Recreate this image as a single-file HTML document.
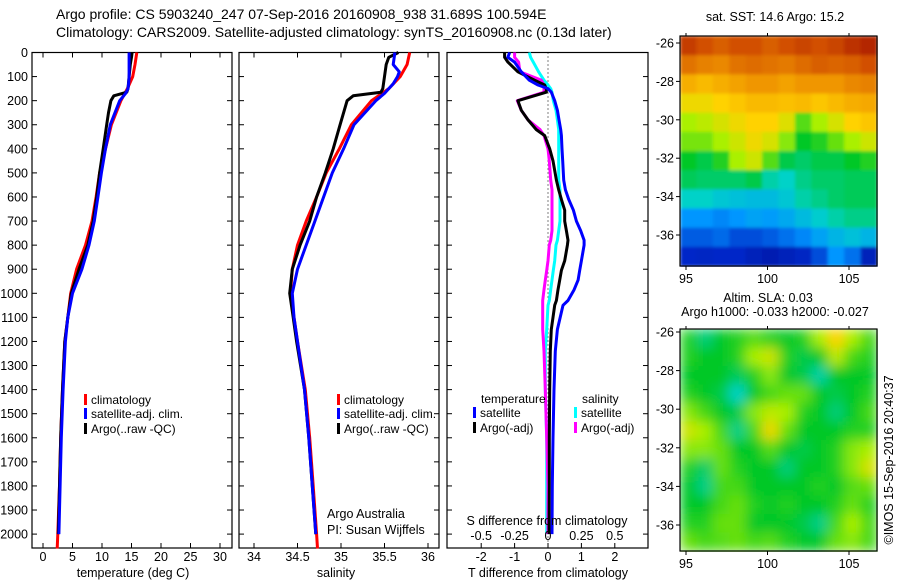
<!DOCTYPE html>
<html><head><meta charset="utf-8"><style>
html,body{margin:0;padding:0;background:#fff;}
svg{display:block;font-family:"Liberation Sans",sans-serif;}
text{fill:#000;}
</style></head><body>
<svg id="fig" width="900" height="580" viewBox="0 0 900 580" xmlns="http://www.w3.org/2000/svg">
<defs>
<filter id="blur6" x="0" y="0" width="1" height="1"><feGaussianBlur stdDeviation="6" edgeMode="duplicate"/></filter>
<filter id="blur1" x="0" y="0" width="1" height="1"><feGaussianBlur stdDeviation="1.5" edgeMode="duplicate"/></filter>
</defs>
<text x="56" y="19" font-size="14">Argo profile: CS 5903240_247 07-Sep-2016 20160908_938 31.689S 100.594E</text>
<text x="56" y="37" font-size="14">Climatology: CARS2009. Satellite-adjusted climatology: synTS_20160908.nc (0.13d later)</text>
<g id="g1"></g>
<g id="g2"></g>
<g id="g3"></g>
<g id="g4"></g>
<g id="g5"></g>
<text x="775" y="21" font-size="12.5" text-anchor="middle">sat. SST: 14.6 Argo: 15.2</text>
<text x="768" y="302" font-size="12.5" text-anchor="middle">Altim. SLA: 0.03</text>
<text x="775" y="316" font-size="12.5" text-anchor="middle">Argo h1000: -0.033 h2000: -0.027</text>
<text transform="translate(893,460) rotate(-90)" font-size="12.5" text-anchor="middle">©IMOS 15-Sep-2016 20:40:37</text>
<text x="327" y="518" font-size="12.5">Argo Australia</text>
<text x="327" y="534" font-size="12.5">PI: Susan Wijffels</text>
</svg>
<script>
// ---------- DATA ----------
const depthTicks = [0,100,200,300,400,500,600,700,800,900,1000,1100,1200,1300,1400,1500,1600,1700,1800,1900,2000];
const tempTicks = [0,5,10,15,20,25,30];
const salTicks = [34,34.5,35,35.5,36];
const salTickLabels = ["34","34.5","35","35.5","36"];
const tdiffTicks = [-2,-1,0,1,2];
const sdiffTicks = [-0.5,-0.25,0,0.25,0.5];
const latTicks = [-26,-28,-30,-32,-34,-36];
const lonTicks = [95,100,105];

const climDepth = [0,50,100,150,200,300,400,500,600,700,800,900,1000,1100,1200,1400,1600,1800,2000,2060];
const climTemp  = [15.9,15.6,15.2,14.3,13.2,11.6,10.6,9.6,9.0,8.3,7.2,5.7,4.7,4.2,3.7,3.3,3.0,2.8,2.5,2.4];
const climSal   = [35.79,35.76,35.68,35.55,35.35,35.12,34.98,34.83,34.72,34.6,34.5,34.44,34.42,34.46,34.5,34.59,34.64,34.68,34.72,34.73];
const satDepth  = [0,50,80,100,130,150,170,200,300,400,500,600,700,800,900,1000,1100,1200,1400,1600,1800,2000];
const satTemp   = [14.6,14.6,14.6,14.6,14.5,14.4,14.0,13.0,11.4,10.6,9.9,9.3,8.7,7.8,6.6,5.0,4.2,3.8,3.4,3.1,2.9,2.7];
const satSal    = [35.62,35.6,35.67,35.65,35.6,35.55,35.5,35.4,35.15,35.03,34.9,34.8,34.7,34.6,34.5,34.44,34.46,34.5,34.58,34.63,34.67,34.71];
const argoDepth = [0,20,50,100,150,165,180,200,250,300,400,500,600,700,800,900,1000,1100,1200,1400,1600,1800,2000];
const argoTemp  = [15.1,15.0,14.8,14.6,14.4,14.2,12.0,11.5,11.1,10.8,10.2,9.6,9.1,8.5,7.6,6.1,4.8,4.2,3.7,3.3,3.0,2.8,2.6];
const argoSal   = [35.66,35.55,35.52,35.5,35.48,35.46,35.14,35.07,35.03,34.99,34.91,34.82,34.72,34.64,34.53,34.44,34.41,34.45,34.49,34.58,34.63,34.67,34.71];

const dDepth = [0,20,40,80,115,135,150,165,200,240,280,320,345,400,450,530,570,610,655,700,740,780,800,865,905,945,985,1030,1050,1150,1240,1400,1600,1800,2000];
const dTsat  = [-1.15,-1.2,-1.0,-0.8,-0.56,-0.3,0.0,0.1,0.2,0.28,0.33,0.38,0.4,0.42,0.44,0.47,0.52,0.62,0.76,0.85,0.98,1.08,1.08,1.0,0.95,0.9,0.78,0.6,0.45,0.28,0.22,0.18,0.15,0.13,0.12];
const dTargo = [-1.3,-1.3,-1.2,-0.9,-0.4,-0.1,-0.05,-0.05,-0.9,-0.8,-0.6,-0.35,-0.1,0.05,0.15,0.25,0.32,0.4,0.5,0.5,0.55,0.6,0.58,0.5,0.4,0.35,0.3,0.25,0.2,0.1,0.07,0.05,0.04,0.04,0.03];
const dSsat  = [-0.14,-0.13,-0.11,-0.07,-0.03,0.0,0.02,0.03,0.04,0.06,0.07,0.08,0.08,0.08,0.08,0.08,0.09,0.09,0.09,0.09,0.08,0.07,0.06,0.05,0.04,0.03,0.02,0.01,0.0,-0.01,-0.02,-0.02,-0.01,-0.01,-0.01];
const dSargo = [-0.25,-0.25,-0.22,-0.21,-0.05,-0.03,-0.03,-0.03,-0.23,-0.2,-0.15,-0.06,-0.03,0.0,0.01,0.02,0.03,0.03,0.03,0.03,0.03,0.02,0.01,0.0,-0.01,-0.02,-0.03,-0.04,-0.04,-0.04,-0.03,-0.02,-0.01,0.0,0.0];

const sstGrid = [
 [.93,.9,.88,.9,.9,.88,.9,.92,.9,.92,.95,.97],
 [.85,.83,.82,.85,.86,.85,.84,.86,.88,.87,.88,.9],
 [.76,.74,.76,.78,.8,.8,.78,.8,.8,.8,.82,.83],
 [.68,.68,.7,.72,.74,.74,.73,.74,.72,.74,.76,.77],
 [.6,.62,.65,.68,.7,.7,.66,.55,.6,.65,.7,.72],
 [.57,.57,.6,.64,.68,.65,.58,.5,.52,.56,.6,.64],
 [.5,.48,.52,.6,.64,.55,.48,.46,.48,.48,.5,.52],
 [.47,.46,.46,.46,.48,.42,.4,.44,.46,.46,.47,.47],
 [.40,.40,.38,.37,.36,.36,.38,.42,.44,.46,.47,.47],
 [.3,.3,.28,.3,.32,.31,.33,.36,.39,.42,.44,.44],
 [.22,.22,.24,.2,.2,.22,.25,.28,.32,.35,.37,.35],
 [.15,.14,.15,.15,.12,.1,.12,.14,.2,.3,.25,.12]];
const slaGrid = [
 [.52,.45,.5,.52,.55,.52,.5,.52,.6,.7,.6,.54],
 [.52,.5,.5,.52,.6,.64,.52,.48,.5,.62,.54,.52],
 [.5,.5,.5,.47,.52,.58,.5,.48,.42,.5,.5,.5],
 [.52,.5,.48,.4,.5,.54,.56,.56,.5,.48,.5,.52],
 [.58,.54,.5,.48,.58,.62,.6,.52,.5,.45,.5,.54],
 [.64,.6,.54,.44,.54,.68,.56,.5,.5,.5,.52,.52],
 [.58,.58,.56,.5,.5,.55,.5,.48,.5,.52,.58,.6],
 [.52,.46,.56,.52,.5,.5,.45,.5,.5,.52,.58,.65],
 [.5,.44,.54,.54,.5,.5,.5,.5,.52,.5,.55,.56],
 [.5,.5,.54,.56,.52,.5,.52,.5,.5,.52,.56,.52],
 [.52,.52,.56,.56,.5,.5,.5,.48,.44,.54,.6,.54],
 [.56,.54,.55,.56,.54,.55,.52,.5,.5,.56,.58,.54]];

// ---------- helpers ----------
const NS = "http://www.w3.org/2000/svg";
function mk(parent, tag, attrs, name, txt){
  const e = document.createElementNS(NS, tag);
  for (const k in attrs) e.setAttribute(k, attrs[k]);
  
  
  if (txt !== undefined) e.textContent = txt;
  parent.appendChild(e);
  return e;
}
const yTop = 52.5, yBot = 548;
const yD = d => yTop + d * 0.2408;
const xT = t => 43 + t * 5.9;
const xS = s => 254 + (s - 34) * 87;
const xdT = t => 548 + t * 33.4;
const xdS = s => 548 + s * 133.6;

function line(g, depths, vals, fx, color, name, w){
  const pts = depths.map((d,i)=> fx(vals[i]).toFixed(1)+","+yD(d).toFixed(1)).join(" ");
  const p = document.createElementNS(NS,'polyline');
  p.setAttribute('points', pts);
  p.setAttribute('fill','none');
  p.setAttribute('stroke',color);
  p.setAttribute('stroke-width', w||3);
  p.setAttribute('stroke-linejoin','round');
  
  
  g.appendChild(p);
}
function frame(g, x0, x1, name){
  mk(g,'rect',{x:x0,y:yTop,width:x1-x0,height:yBot-yTop,fill:'none',stroke:'#000','stroke-width':1.2}, name);
}
function depthTickMarks(g, x0, x1, labels){
  depthTicks.forEach(d=>{
    const y = yD(d);
    mk(g,'line',{x1:x0,y1:y,x2:x0+5,y2:y,stroke:'#000'},'depth-tick');
    mk(g,'line',{x1:x1-5,y1:y,x2:x1,y2:y,stroke:'#000'},'depth-tick');
    if (labels) mk(g,'text',{x:28,y:y+4.5,'font-size':12.5,'text-anchor':'end'},'depth-tick-label',String(d));
  });
}
function xTicks(g, ticks, fx, labels, y0, name){
  ticks.forEach((t,i)=>{
    const x = fx(t);
    mk(g,'line',{x1:x,y1:yBot,x2:x,y2:yBot-5,stroke:'#000'},name+'-tick');
    mk(g,'line',{x1:x,y1:yTop,x2:x,y2:yTop+5,stroke:'#000'},name+'-tick');
    mk(g,'text',{x:x,y:y0,'font-size':12.5,'text-anchor':'middle'},name+'-tick-label',labels[i]);
  });
}
function legendEntry(g,x,y,color,label,name){
  mk(g,'rect',{x:x,y:y-10,width:3,height:11,fill:color},name+'-swatch');
  mk(g,'text',{x:x+7,y:y,'font-size':12},name+'-label',label);
}

// ---------- panel 1: temperature ----------
const g1 = document.getElementById('g1');
frame(g1,32,232,'temperature-axes');
depthTickMarks(g1,32,232,true);
xTicks(g1,tempTicks,xT,tempTicks.map(String),561,'temperature-axis');
mk(g1,'text',{x:133,y:577,'font-size':12.5,'text-anchor':'middle'},'temperature-axis-title','temperature (deg C)');
line(g1,climDepth,climTemp,xT,'#ff0000','temp-climatology-line');
line(g1,argoDepth,argoTemp,xT,'#000000','temp-argo-line');
line(g1,satDepth,satTemp,xT,'#0000ff','temp-satellite-line');
legendEntry(g1,84,404,'#ff0000','climatology','temp-legend-climatology');
legendEntry(g1,84,418,'#0000ff','satellite-adj. clim.','temp-legend-satellite');
legendEntry(g1,84,433,'#000000','Argo(..raw -QC)','temp-legend-argo');

// ---------- panel 2: salinity ----------
const g2 = document.getElementById('g2');
frame(g2,239,439,'salinity-axes');
depthTickMarks(g2,239,439,false);
xTicks(g2,salTicks,xS,salTickLabels,561,'salinity-axis');
mk(g2,'text',{x:336,y:577,'font-size':12.5,'text-anchor':'middle'},'salinity-axis-title','salinity');
line(g2,climDepth,climSal,xS,'#ff0000','sal-climatology-line');
line(g2,argoDepth,argoSal,xS,'#000000','sal-argo-line');
line(g2,satDepth,satSal,xS,'#0000ff','sal-satellite-line');
legendEntry(g2,337,404,'#ff0000','climatology','sal-legend-climatology');
legendEntry(g2,337,418,'#0000ff','satellite-adj. clim.','sal-legend-satellite');
legendEntry(g2,337,433,'#000000','Argo(..raw -QC)','sal-legend-argo');

// ---------- panel 3: differences ----------
const g3 = document.getElementById('g3');
frame(g3,447,648,'difference-axes');
depthTickMarks(g3,447,648,false);
tdiffTicks.forEach(t=>{
  const x=xdT(t);
  mk(g3,'line',{x1:x,y1:yBot,x2:x,y2:yBot-5,stroke:'#000'},'tdiff-tick');
  mk(g3,'text',{x:x,y:561,'font-size':12.5,'text-anchor':'middle'},'tdiff-tick-label',String(t));
});
mk(g3,'text',{x:548,y:577,'font-size':12.5,'text-anchor':'middle'},'tdiff-axis-title','T difference from climatology');
mk(g3,'line',{x1:548,y1:yTop,x2:548,y2:yBot,stroke:'#000','stroke-dasharray':'1,3'},'zero-line');
line(g3,dDepth,dSsat,xdS,'#00ffff','sdiff-satellite-line');
line(g3,dDepth,dSargo,xdS,'#ff00ff','sdiff-argo-line');
line(g3,dDepth,dTargo,xdT,'#000000','tdiff-argo-line');
line(g3,dDepth,dTsat,xdT,'#0000ff','tdiff-satellite-line');
mk(g3,'text',{x:481,y:403,'font-size':12},'legend-temperature-heading','temperature');
mk(g3,'text',{x:582,y:403,'font-size':12},'legend-salinity-heading','salinity');
legendEntry(g3,473,417,'#0000ff','satellite','tdiff-legend-satellite');
legendEntry(g3,473,432,'#000000','Argo(-adj)','tdiff-legend-argo');
legendEntry(g3,574,417,'#00ffff','satellite','sdiff-legend-satellite');
legendEntry(g3,574,432,'#ff00ff','Argo(-adj)','sdiff-legend-argo');
mk(g3,'text',{x:547,y:525,'font-size':12.5,'text-anchor':'middle'},'sdiff-axis-title','S difference from climatology');
sdiffTicks.forEach(s=>{
  mk(g3,'text',{x:xdS(s),y:540,'font-size':12.5,'text-anchor':'middle'},'sdiff-tick-label',String(s));
});

// ---------- maps ----------
const stops = [[0,[0,0,130]],[0.15,[0,40,200]],[0.3,[0,150,255]],[0.4,[0,210,200]],[0.5,[0,200,40]],[0.6,[170,240,0]],[0.7,[255,210,0]],[0.8,[240,150,0]],[0.9,[210,80,0]],[1,[165,20,0]]];
function cmap(v){
  v=Math.max(0,Math.min(1,v));
  for(let i=1;i<stops.length;i++){
    if(v<=stops[i][0]){
      const a=stops[i-1],b=stops[i],f=(v-a[0])/(b[0]-a[0]);
      return 'rgb('+a[1].map((c,k)=>Math.round(c+(b[1][k]-c)*f)).join(',')+')';
    }
  }
  return 'rgb(165,20,0)';
}
function drawMap(g, grid, x0, x1, y0, y1, lat0y, latScale, name, filt){
  const rows=grid.length, cols=grid[0].length;
  const cw=(x1-x0)/cols, ch=(y1-y0)/rows;
  const cells = mk(g,'g',{filter:'url(#'+filt+')'},name+'-cells');
  grid.forEach((row,r)=>row.forEach((v,c)=>{
    mk(cells,'rect',{x:(x0+c*cw).toFixed(2),y:(y0+r*ch).toFixed(2),width:(cw+0.6).toFixed(2),height:(ch+0.6).toFixed(2),fill:cmap(v)},name+'-cell');
  }));
  mk(g,'rect',{x:x0,y:y0,width:x1-x0,height:y1-y0,fill:'none',stroke:'#000','stroke-width':1.2},name+'-frame');
  latTicks.forEach(l=>{
    const y=lat0y+(-26-l)*latScale;
    mk(g,'line',{x1:x0-4,y1:y,x2:x0,y2:y,stroke:'#000'},name+'-lat-tick');
    mk(g,'text',{x:x0-6,y:y+4.5,'font-size':12.5,'text-anchor':'end'},name+'-lat-label',String(l));
  });
  lonTicks.forEach(l=>{
    const x=686+(l-95)*16.3;
    mk(g,'line',{x1:x,y1:y1,x2:x,y2:y1+4,stroke:'#000'},name+'-lon-tick');
    mk(g,'line',{x1:x,y1:y0,x2:x,y2:y0-3,stroke:'#000'},name+'-lon-tick');
    mk(g,'text',{x:x,y:y1+17,'font-size':12.5,'text-anchor':'middle'},name+'-lon-label',String(l));
  });
}
drawMap(document.getElementById('g4'),sstGrid,680,877,36,266,43,19.2,'sst-map','blur1');
drawMap(document.getElementById('g5'),slaGrid,680,877,329,551,332,19.3,'sla-map','blur6');
</script>
</body></html>
